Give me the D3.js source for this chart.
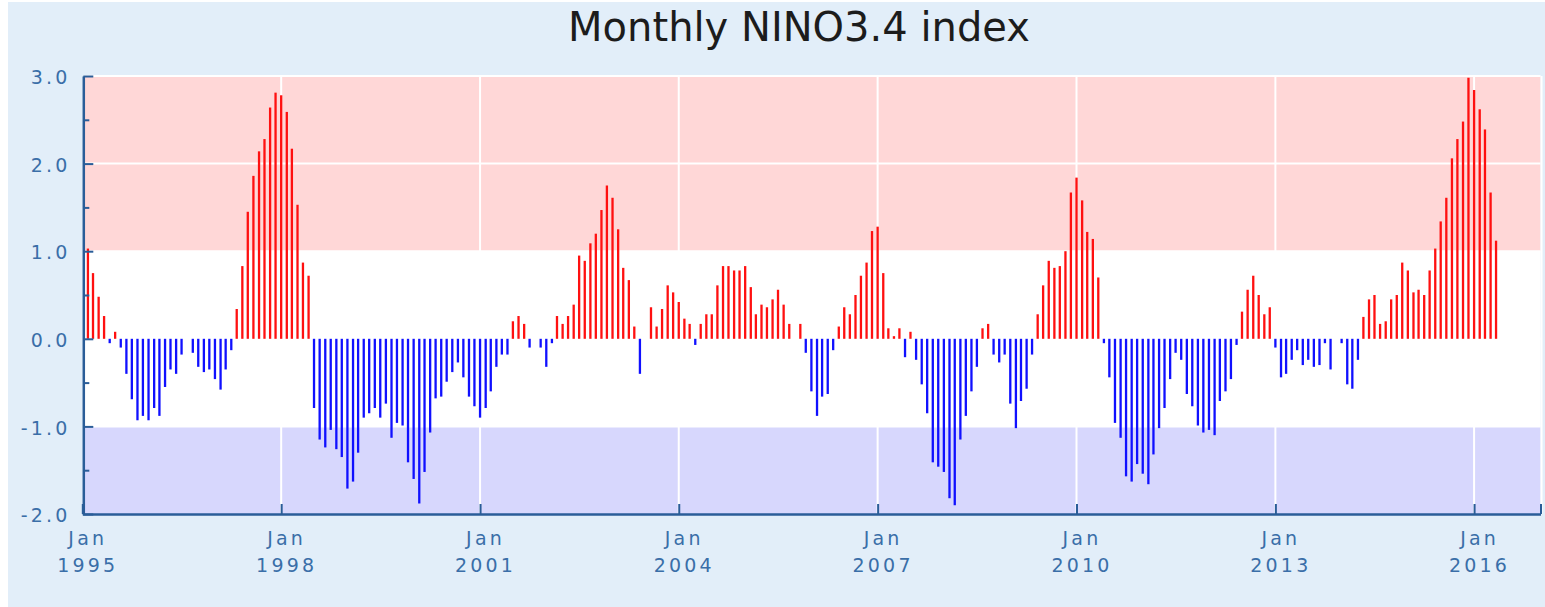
<!DOCTYPE html>
<html>
<head>
<meta charset="utf-8">
<script src="https://cdn.jsdelivr.net/npm/d3@7"></script>
<style>
  body { margin: 0; background: #fff; }
  svg { display: block; }
  .tick-label { font-family: "DejaVu Sans", Verdana, sans-serif; font-size: 19px; letter-spacing: 3.2px; fill: #3a6ea8; }
</style>
</head>
<body>
<svg id="chart" width="1545" height="607"></svg>
<script>
'use strict';

// first visible bar is Feb 1995, one value per month up to May 2016
var startMonth = new Date(1995, 1, 1);
var nino34 = [
  1.03, 0.75, 0.48, 0.26, -0.05, 0.08, -0.1, -0.4, -0.69, -0.93, -0.88,
  -0.93, -0.79, -0.88, -0.55, -0.35, -0.4, -0.18, 0, -0.16, -0.32, -0.38, -0.35,
  -0.46, -0.58, -0.35, -0.13, 0.34, 0.83, 1.45, 1.86, 2.14, 2.28, 2.64, 2.81,
  2.78, 2.59, 2.17, 1.53, 0.87, 0.72, -0.79, -1.15, -1.24, -1.04, -1.26, -1.35,
  -1.71, -1.63, -1.3, -0.9, -0.85, -0.79, -0.9, -0.74, -1.13, -0.96, -0.99, -1.41,
  -1.6, -1.88, -1.52, -1.07, -0.68, -0.66, -0.49, -0.38, -0.27, -0.44, -0.66, -0.77,
  -0.9, -0.79, -0.6, -0.32, -0.18, -0.18, 0.2, 0.26, 0.17, -0.1, 0, -0.1,
  -0.32, -0.05, 0.26, 0.17, 0.26, 0.39, 0.95, 0.89, 1.09, 1.2, 1.47, 1.75,
  1.61, 1.25, 0.81, 0.67, 0.14, -0.4, 0, 0.36, 0.14, 0.34, 0.61, 0.53,
  0.42, 0.23, 0.17, -0.07, 0.17, 0.28, 0.28, 0.61, 0.83, 0.83, 0.78, 0.78,
  0.83, 0.59, 0.28, 0.39, 0.36, 0.45, 0.56, 0.39, 0.17, 0, 0.17, -0.16,
  -0.6, -0.88, -0.66, -0.63, -0.13, 0.14, 0.36, 0.28, 0.5, 0.72, 0.87, 1.23,
  1.28, 0.75, 0.12, 0.03, 0.12, -0.21, 0.08, -0.24, -0.52, -0.85, -1.41, -1.46,
  -1.52, -1.82, -1.9, -1.15, -0.88, -0.6, -0.32, 0.12, 0.17, -0.18, -0.27, -0.18,
  -0.74, -1.02, -0.71, -0.57, -0.18, 0.28, 0.61, 0.89, 0.81, 0.83, 1.0, 1.67,
  1.84, 1.58, 1.22, 1.14, 0.7, -0.05, -0.44, -0.96, -1.13, -1.57, -1.63, -1.43,
  -1.54, -1.66, -1.32, -1.02, -0.79, -0.46, -0.16, -0.24, -0.63, -0.77, -0.99, -1.07,
  -1.04, -1.1, -0.71, -0.6, -0.46, -0.07, 0.31, 0.56, 0.72, 0.5, 0.28, 0.36,
  -0.1, -0.44, -0.4, -0.24, -0.13, -0.3, -0.24, -0.32,
  -0.3, -0.05, -0.35, 0, -0.05, -0.52, -0.57, -0.24, 0.25, 0.45, 0.5, 0.17, 0.2, 0.45, 0.5, 0.87,
  0.78, 0.53, 0.56, 0.5, 0.78, 1.03, 1.34, 1.61, 2.06, 2.28, 2.48, 2.98,
  2.84, 2.62, 2.39, 1.67, 1.12
];
var tickYears = [1995, 1998, 2001, 2004, 2007, 2010, 2013, 2016];
var yTicks = [-2, -1, 0, 1, 2, 3];
var yMinorTicks = [-1.5, -0.5, 0.5, 1.5, 2.5];
var bands = [
  { from: 1, to: 3, color: '#ffd7d7' },
  { from: -1, to: 1, color: '#ffffff' },
  { from: -2, to: -1, color: '#d7d7fd' }
];

var svg = d3.select('#chart');
var w = 1545, h = 607;
var pLeft = 83.3, pRight = 1540.5, pTop = 76, pBottom = 514;

svg.append('rect')
    .attr('x', 8).attr('y', 2)
    .attr('width', w - 8).attr('height', h - 2)
    .attr('fill', '#e2eef9');

svg.append('text')
    .attr('x', 799).attr('y', 41)
    .attr('text-anchor', 'middle')
    .style('font-family', '"DejaVu Sans", Verdana, sans-serif')
    .style('font-size', '40px')
    .attr('fill', '#1c1c1c')
    .text('Monthly NINO3.4 index');

var x = d3.scaleTime()
    .domain([new Date(1995, 0, 1), new Date(2017, 0, 1)])
    .range([82.3, pRight]);
var y = d3.scaleLinear()
    .domain([-2, 3])
    .range([pBottom, pTop]);

var data = nino34.map(function(v, i) {
    return { date: d3.timeMonth.offset(startMonth, i), value: v };
});

/** background bands */
svg.append('g').selectAll('rect')
    .data(bands)
    .enter()
    .append('rect')
    .attr('x', pLeft)
    .attr('width', pRight - pLeft)
    .attr('y', function(d) { return y(d.to); })
    .attr('height', function(d) { return y(d.from) - y(d.to); })
    .attr('fill', function(d) { return d.color; });

/** white grid */
var grid = svg.append('g').attr('stroke', '#fff').attr('stroke-width', 2);
grid.selectAll('line.v')
    .data(tickYears.slice(1))
    .enter()
    .append('line')
    .attr('x1', function(d) { return x(new Date(d, 0, 1)); })
    .attr('x2', function(d) { return x(new Date(d, 0, 1)); })
    .attr('y1', pTop).attr('y2', pBottom);
grid.selectAll('line.h')
    .data(yTicks.slice(1))
    .enter()
    .append('line')
    .attr('x1', pLeft).attr('x2', pRight)
    .attr('y1', function(d) { return y(d); })
    .attr('y2', function(d) { return y(d); });
grid.append('line')
    .attr('x1', pRight + 1).attr('x2', pRight + 1)
    .attr('y1', pTop).attr('y2', pBottom);

/** bars */
var barW = 2.3;
svg.append('g').selectAll('rect')
    .data(data)
    .enter()
    .append('rect')
    .attr('x', function(d) { return x(d.date) - barW / 2; })
    .attr('width', barW)
    .attr('y', function(d) { return d.value >= 0 ? y(d.value) : y(0); })
    .attr('height', function(d) { return Math.abs(y(d.value) - y(0)); })
    .attr('fill', function(d) { return d.value >= 0 ? '#ff1010' : '#1010ff'; });

/** axes */
var axisColor = '#2a5d98';

var yAxis = svg.append('g')
    .attr('transform', 'translate(' + pLeft + ',0)')
    .call(d3.axisLeft(y)
        .tickValues(yTicks)
        .tickSize(-10)
        .tickSizeOuter(0)
        .tickPadding(16)
        .tickFormat(function(d) { return d.toFixed(1); }));
svg.append('g')
    .attr('transform', 'translate(' + pLeft + ',0)')
    .call(d3.axisLeft(y)
        .tickValues(yMinorTicks)
        .tickSize(-6)
        .tickSizeOuter(0)
        .tickFormat(''))
    .select('.domain').remove();

var xTickDates = tickYears.map(function(yr) { return new Date(yr, 0, 1); });
xTickDates.push(new Date(2017, 0, 1));
var xAxis = svg.append('g')
    .attr('transform', 'translate(0,' + pBottom + ')')
    .call(d3.axisBottom(x)
        .tickValues(xTickDates)
        .tickSize(-10)
        .tickSizeOuter(0)
        .tickFormat(''));

[yAxis, xAxis].forEach(function(ax) {
    ax.select('.domain').attr('stroke', axisColor).attr('stroke-width', 2.5);
});
svg.selectAll('.tick line').attr('stroke', axisColor).attr('stroke-width', 2);

yAxis.attr('font-size', null).attr('font-family', null);
yAxis.selectAll('.tick text')
    .attr('class', 'tick-label')
    .attr('dy', '0.4em')
    .attr('dx', 3.2);

/** two-line x labels */
var xl = svg.append('g');
xl.selectAll('text')
    .data(tickYears)
    .enter()
    .append('text')
    .attr('class', 'tick-label')
    .attr('text-anchor', 'middle')
    .attr('x', function(d) { return x(new Date(d, 0, 1)) + 5.5; })
    .attr('y', 545)
    .each(function(d) {
        var t = d3.select(this);
        t.append('tspan').text('Jan');
        t.append('tspan')
            .attr('x', x(new Date(d, 0, 1)) + 5.5)
            .attr('y', 571.5)
            .text(d);
    });
</script>
</body>
</html>
